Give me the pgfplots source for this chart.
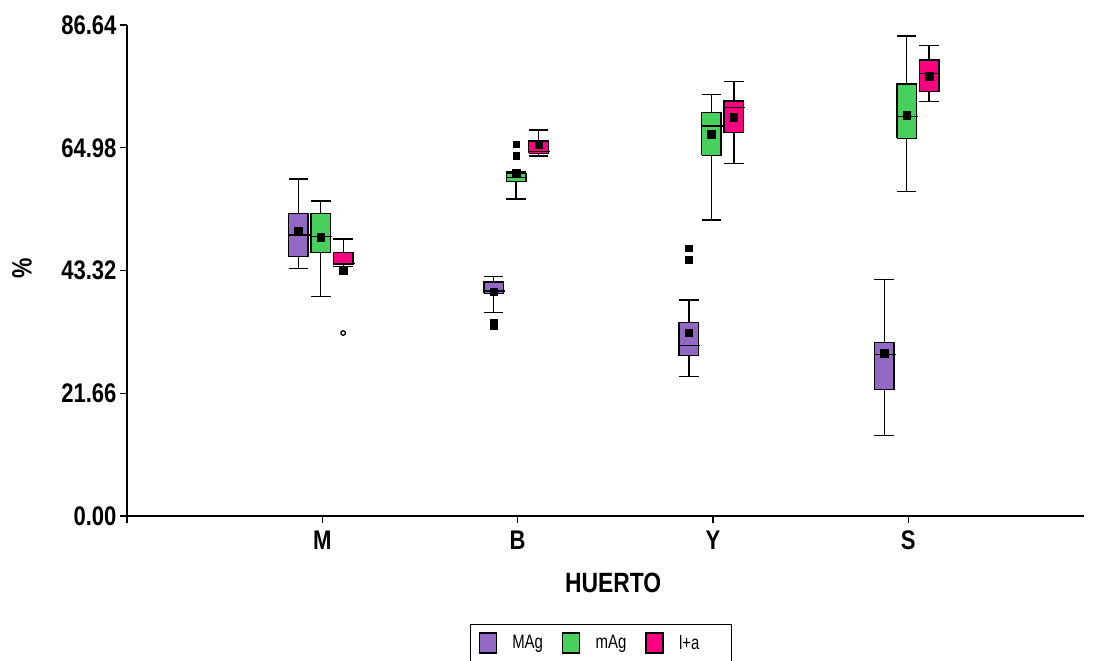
\documentclass[border=0pt]{standalone}
\usepackage{fontspec}
\setmainfont{Liberation Sans}
\newfontfamily\narrowfont[FakeStretch=0.82]{Liberation Sans}
\newfontfamily\legendfont[FakeStretch=0.77]{Liberation Sans}
\usepackage{pgfplots}
\pgfplotsset{compat=1.18}
\definecolor{cMAg}{RGB}{146,104,194}
\definecolor{cmAg}{RGB}{72,208,92}
\definecolor{cla}{RGB}{255,0,128}
% #1 position, #2 lower whisker, #3 lower quartile, #4 median, #5 upper quartile, #6 upper whisker, #7 colour
\newcommand{\bx}[7]{%
  \pgfmathsetmacro\xl{#1-0.05}\pgfmathsetmacro\xr{#1+0.05}%
  \pgfmathsetmacro\xm{#1+0.058}%
  \edef\temp{\noexpand\addplot[forget plot, fill=#7, draw=black, line width=1.4bp, line join=miter]
    coordinates {(\xl,#3) (\xr,#3) (\xr,#5) (\xl,#5) (\xl,#3)};}\temp
  \edef\temp{\noexpand\addplot[forget plot, black, line width=1.4bp, unbounded coords=jump]
    coordinates {(#1,#5) (#1,#6) (#1,nan) (\xl,#6) (\xr,#6) (#1,nan)
                 (#1,#3) (#1,#2) (#1,nan) (\xl,#2) (\xr,#2) (#1,nan)
                 (\xl,#4) (\xm,#4)};}\temp
}
\begin{document}
\begin{tikzpicture}
\useasboundingbox (-127bp,-145bp) rectangle (970bp,516bp);
\begin{axis}[
  at={(0,0)}, anchor=south west,
  scale only axis, width=957bp, height=491bp,
  xmin=0, xmax=4.9, ymin=0, ymax=86.64,
  axis x line=bottom, axis y line=left,
  axis line style={-, line width=1.4bp, black},
  tick align=outside, major tick length=7bp,
  tick style={black, line width=1.2bp},
  xtick={0,1,2,3,4}, xticklabels={,M,B,Y,S},
  ytick={0,21.66,43.32,64.98,86.64},
  yticklabels={0.00,21.66,43.32,64.98,86.64},
  ticklabel style={font=\narrowfont\bfseries\fontsize{27}{30}\selectfont},
  xticklabel style={yshift=-4bp},
  xlabel={HUERTO}, ylabel={\%},
  xlabel style={at={(axis description cs:0.508,-0.1354)}, anchor=center, font=\narrowfont\bfseries\fontsize{28}{30}\selectfont},
  ylabel style={at={(axis description cs:-0.1097,0.504)}, anchor=center, font=\narrowfont\bfseries\fontsize{28}{30}\selectfont},
  legend image code/.code={\draw[#1] (0bp,-10bp) rectangle (17bp,10bp);},
  legend columns=3,
  legend style={at={(axis description cs:0.3584,-0.2195)}, anchor=north west,
    draw=black, line width=1.2bp, inner xsep=8bp, inner ysep=8bp,
    font=\legendfont\fontsize{19.5}{22}\selectfont,
    /tikz/every odd column/.append style={column sep=13.5bp},
    /tikz/every even column/.append style={column sep=17bp}},
  clip=false,
]
\addlegendimage{fill=cMAg, draw=black, line width=1.2bp}
\addlegendimage{fill=cmAg, draw=black, line width=1.2bp}
\addlegendimage{fill=cla, draw=black, line width=1.2bp}
\legend{MAg,mAg,l+a\hspace*{22bp}}

% ---- M ----
\bx{0.877}{43.71}{45.76}{49.59}{53.41}{59.47}{cMAg}
\bx{0.992}{38.70}{46.46}{49.29}{53.41}{55.59}{cmAg}
\bx{1.107}{43.99}{44.47}{44.60}{46.46}{48.88}{cla}
% ---- B ----
\bx{1.877}{35.87}{39.30}{39.70}{41.28}{42.22}{cMAg}
\bx{1.992}{55.94}{58.99}{59.77}{60.47}{60.70}{cmAg}
\bx{2.107}{63.53}{64.00}{64.28}{66.17}{68.11}{cla}
% ---- Y ----
\bx{2.877}{24.58}{28.29}{30.12}{34.18}{38.12}{cMAg}
\bx{2.992}{52.23}{63.65}{68.82}{71.17}{74.41}{cmAg}
\bx{3.107}{62.17}{67.64}{72.05}{73.23}{76.64}{cla}
% ---- S ----
\bx{3.877}{14.24}{22.36}{28.53}{30.58}{41.70}{cMAg}
\bx{3.992}{57.23}{66.65}{70.46}{76.23}{84.70}{cmAg}
\bx{4.107}{73.11}{74.87}{78.12}{80.47}{82.99}{cla}

% means
\addplot[forget plot, only marks, mark=square*, mark size=3.8bp, black] coordinates {
  (0.877,50.29) (0.992,49.18) (1.107,43.29)
  (1.877,39.58) (1.992,60.47) (2.107,65.64)
  (2.877,32.35) (2.992,67.41) (3.107,70.36)
  (3.877,28.71) (3.992,70.71) (4.107,77.64)};
% outliers
\addplot[forget plot, only marks, mark=square*, mark size=3.3bp, black] coordinates {
  (1.877,34.20) (1.877,33.60) (1.992,65.64) (1.992,63.58)
  (2.877,47.24) (2.877,45.26)};
\addplot[forget plot, only marks, mark=o, mark size=2.3bp, line width=1.3bp, black] coordinates {
  (1.107,32.29)};
\end{axis}
\end{tikzpicture}
\end{document}
